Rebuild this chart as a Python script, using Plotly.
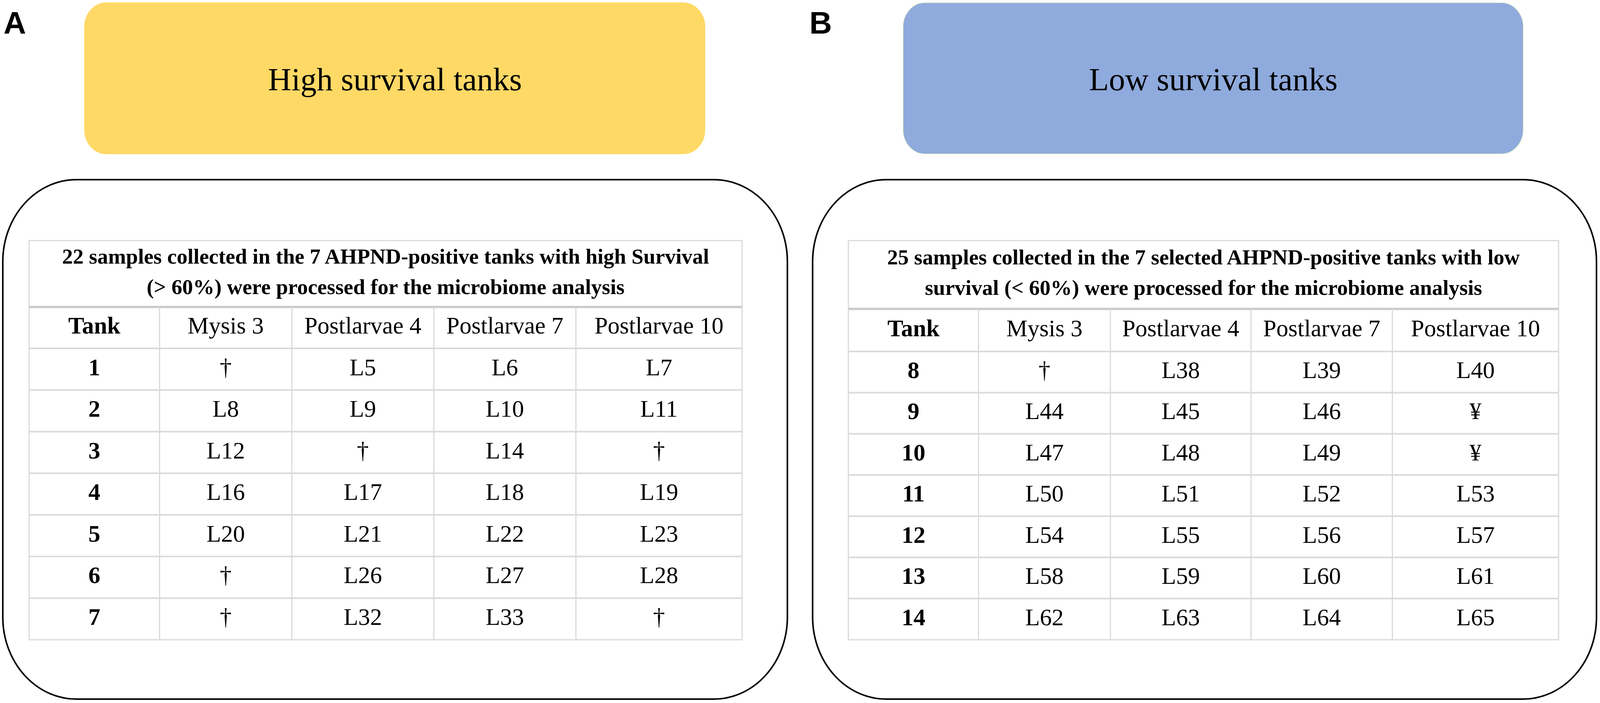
import plotly.graph_objects as go

# Table contents
columns = ["Tank", "Mysis 3", "Postlarvae 4", "Postlarvae 7", "Postlarvae 10"]

high_title = ["22 samples collected in the 7 AHPND-positive tanks with high Survival",
              "(&gt; 60%) were processed for the microbiome analysis"]
high_tanks = ["1", "2", "3", "4", "5", "6", "7"]
high_mysis3 = ["†", "L8", "L12", "L16", "L20", "†", "†"]
high_pl4 = ["L5", "L9", "†", "L17", "L21", "L26", "L32"]
high_pl7 = ["L6", "L10", "L14", "L18", "L22", "L27", "L33"]
high_pl10 = ["L7", "L11", "†", "L19", "L23", "L28", "†"]

low_title = ["25 samples collected in the 7 selected AHPND-positive tanks with low",
             "survival (&lt; 60%) were processed for the microbiome analysis"]
low_tanks = ["8", "9", "10", "11", "12", "13", "14"]
low_mysis3 = ["†", "L44", "L47", "L50", "L54", "L58", "L62"]
low_pl4 = ["L38", "L45", "L48", "L51", "L55", "L59", "L63"]
low_pl7 = ["L39", "L46", "L49", "L52", "L56", "L60", "L64"]
low_pl10 = ["L40", "¥", "¥", "L53", "L57", "L61", "L65"]

# drawing units follow the reference picture (4562 x 1800)
W, H = 4562, 1800
SERIF = "Liberation Serif, Times New Roman, serif"
SANS = "Liberation Sans, Arial, sans-serif"
GRID = "#dadada"


def rounded_path(x0, y0, x1, y1, r):
    k = 0.5523 * r
    return (f"M {x0 + r},{y0} L {x1 - r},{y0} "
            f"C {x1 - r + k},{y0} {x1},{y0 + r - k} {x1},{y0 + r} "
            f"L {x1},{y1 - r} "
            f"C {x1},{y1 - r + k} {x1 - r + k},{y1} {x1 - r},{y1} "
            f"L {x0 + r},{y1} "
            f"C {x0 + r - k},{y1} {x0},{y1 - r + k} {x0},{y1 - r} "
            f"L {x0},{y0 + r} "
            f"C {x0},{y0 + r - k} {x0 + r - k},{y0} {x0 + r},{y0} Z")


fig = go.Figure()
shapes = []


def add_panel(label, label_x, box_x, box_color, box_line, box_text, frame_x,
              col_edges, title_bottom, header_bottom, title, tanks, cols):
    # coloured heading box
    shapes.append(dict(type="path", path=rounded_path(box_x[0], 7, box_x[1], 394, 62),
                       fillcolor=box_color, line=dict(color=box_line, width=1.5), layer="below"))
    # black frame
    shapes.append(dict(type="path", path=rounded_path(frame_x[0], 460, frame_x[1], 1790, 210),
                       line=dict(color="black", width=4), layer="below"))
    fig.add_annotation(x=label_x, y=12, text=f"<b>{label}</b>", showarrow=False,
                       xanchor="left", yanchor="top", font=dict(family=SANS, size=80, color="black"))
    fig.add_annotation(x=(box_x[0] + box_x[1]) / 2, y=203, text=box_text, showarrow=False,
                       font=dict(family=SERIF, size=83, color="black"))

    top, bottom = 616, 1638
    n = len(tanks)
    row_h = (bottom - header_bottom) / n
    row_edges = [header_bottom + i * row_h for i in range(n + 1)]
    left, right = col_edges[0], col_edges[-1]

    # grid
    shapes.append(dict(type="rect", x0=left, x1=right, y0=top, y1=bottom,
                       line=dict(color=GRID, width=3), layer="below"))
    shapes.append(dict(type="line", x0=left, x1=right, y0=title_bottom, y1=title_bottom,
                       line=dict(color="#cccccc", width=6), layer="below"))
    for y in row_edges[:-1]:
        shapes.append(dict(type="line", x0=left, x1=right, y0=y, y1=y,
                           line=dict(color=GRID, width=4), layer="below"))
    for x in col_edges[1:-1]:
        shapes.append(dict(type="line", x0=x, x1=x, y0=title_bottom, y1=bottom,
                           line=dict(color=GRID, width=3), layer="below"))

    centers_x = [(col_edges[i] + col_edges[i + 1]) / 2 for i in range(len(col_edges) - 1)]
    centers_y = [(row_edges[i] + row_edges[i + 1]) / 2 for i in range(n)]
    header_y = (title_bottom + header_bottom) / 2
    mid_title = (top + title_bottom) / 2

    # table title, two lines
    fig.add_trace(go.Scatter(x=[(left + right) / 2] * 2, y=[mid_title - 40, mid_title + 38],
                             text=title, mode="text", hoverinfo="skip",
                             textfont=dict(family=SERIF, size=55, color="black", weight="bold")))
    # bold first column (header + tank numbers)
    fig.add_trace(go.Scatter(x=[centers_x[0]] * (n + 1), y=[header_y] + centers_y,
                             text=[columns[0]] + tanks, mode="text", hoverinfo="skip",
                             textfont=dict(family=SERIF, size=61, color="black", weight="bold")))
    # regular cells
    xs, ys, ts = [], [], []
    for j, col in enumerate(cols, start=1):
        xs.append(centers_x[j]); ys.append(header_y); ts.append(columns[j])
        for i, v in enumerate(col):
            xs.append(centers_x[j]); ys.append(centers_y[i]); ts.append(v)
    fig.add_trace(go.Scatter(x=xs, y=ys, text=ts, mode="text", hoverinfo="skip",
                             textfont=dict(family=SERIF, size=61, color="black")))


add_panel("A", 8, (241, 2010), "#FFD966", "#FFD966", "High survival tanks", (8, 2245),
          [83, 455, 832, 1237, 1642, 2116], 786, 892, high_title, high_tanks,
          [high_mysis3, high_pl4, high_pl7, high_pl10])
add_panel("B", 2305, (2575, 4343), "#8FAADC", "#d6e8c8", "Low survival tanks", (2317, 4552),
          [2419, 2790, 3166, 3567, 3970, 4444], 791, 900, low_title, low_tanks,
          [low_mysis3, low_pl4, low_pl7, low_pl10])

fig.update_layout(
    width=W, height=H,
    margin=dict(l=0, r=0, t=0, b=0),
    paper_bgcolor="white", plot_bgcolor="white",
    showlegend=False,
    shapes=shapes,
    xaxis=dict(range=[0, W], visible=False, fixedrange=True),
    yaxis=dict(range=[H, 0], visible=False, fixedrange=True),
)

# the browser viewport can be narrower than the figure: fit the figure to it
fit = ("document.body.style.margin='0';"
       "var gd=document.getElementById('{plot_id}');"
       "Plotly.relayout(gd,{width:window.innerWidth,height:window.innerHeight});")
fig.write_html("out.html", config={"displayModeBar": False}, post_script=fit)
